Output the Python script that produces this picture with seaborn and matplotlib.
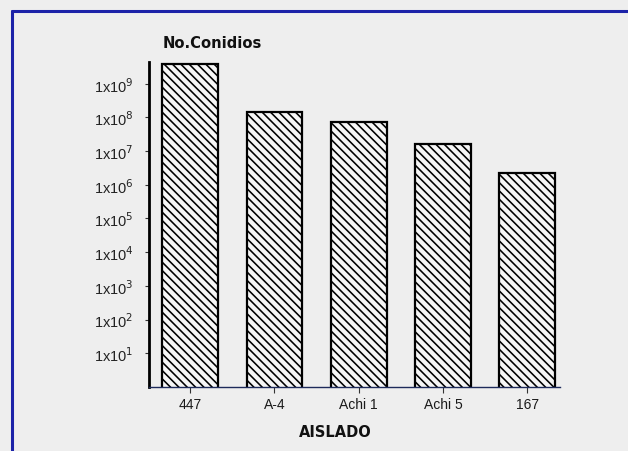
import numpy as np
import matplotlib
matplotlib.use("Agg")
import matplotlib.pyplot as plt
from matplotlib.lines import Line2D
import seaborn as sns

# data (log scale)
aislados = ["447", "A-4", "Achi 1", "Achi 5", "167"]
conidios = [3.8e9, 1.4e8, 7.3e7, 1.6e7, 2.2e6]
exponents = [1, 2, 3, 4, 5, 6, 7, 8, 9]

PAPER = "#eeeeee"
FRAME = "#1c22a8"

sns.set_theme(style="white")
plt.rcParams["font.family"] = ["Liberation Sans", "DejaVu Sans"]
plt.rcParams["hatch.linewidth"] = 1.15

fig = plt.figure(figsize=(6.28, 4.52), dpi=100, facecolor=PAPER)
ax = fig.add_axes([149 / 628, 1 - 388 / 452, (560 - 149) / 628, (388 - 63) / 452])
ax.set_facecolor("none")
ax.set_yscale("log")

sns.barplot(x=aislados, y=conidios, color="#f6f6f6", edgecolor="black",
            linewidth=1.6, width=0.66, saturation=1, ax=ax)
for p in ax.patches:
    p.set_hatch("\\\\\\\\")

ax.set_ylim(1, 4.4e9)
ax.set_xlim(-0.49, 4.39)
ax.set_yticks([10.0 ** e for e in exponents])
ax.set_yticklabels([f"1x10$^{{{e}}}$" for e in exponents], fontsize=10.5, color="#222222")
ax.yaxis.set_minor_locator(matplotlib.ticker.NullLocator())
ax.tick_params(axis="y", direction="out", length=3, width=0.8, color="#333333", pad=8, left=True)
ax.tick_params(axis="x", direction="out", length=4, width=0.8, color="#333333", pad=3,
               labelsize=10, labelcolor="#1a1a1a", bottom=True)

for s in ["top", "right"]:
    ax.spines[s].set_visible(False)
ax.spines["left"].set_linewidth(2.0)
ax.spines["left"].set_color("black")
ax.spines["bottom"].set_linewidth(1.0)
ax.spines["bottom"].set_color("#1d2a5a")
ax.set_xlabel("")
ax.set_ylabel("")

fig.text(163 / 628, 1 - 43 / 452, "No.Conidios", fontsize=10.6, fontweight="bold",
         family="DejaVu Sans", ha="left", va="center", color="#111111")
fig.text(335 / 628, 1 - 433 / 452, "AISLADO", fontsize=10.5, fontweight="bold",
         family="DejaVu Sans", ha="center", va="center", color="#111111")

# blue frame of the scanned page
fig.add_artist(Line2D([12 / 628, 12 / 628], [0, 1 - 12 / 452], color=FRAME, lw=2.2,
                      transform=fig.transFigure))
fig.add_artist(Line2D([12 / 628, 1], [1 - 12 / 452, 1 - 12 / 452], color=FRAME, lw=2.2,
                      transform=fig.transFigure))

fig.savefig("out.png", dpi=100, facecolor=PAPER)
